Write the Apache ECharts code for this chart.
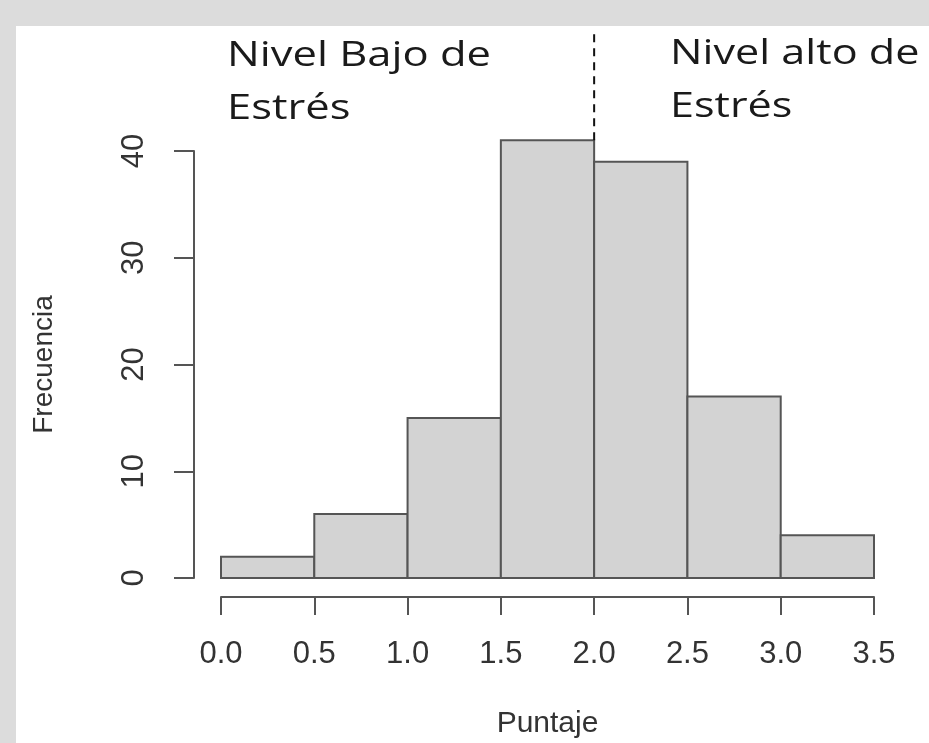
<!DOCTYPE html>
<html>
<head>
<meta charset="utf-8">
<script src="https://cdn.jsdelivr.net/npm/echarts@6/dist/echarts.min.js"></script>
<style>
  html, body { margin: 0; padding: 0; background: #dcdcdc; }
  #chart { position: absolute; left: 16px; top: 26px; width: 913px; height: 717px; background: #ffffff; }
</style>
</head>
<body>
<div id="chart"></div>
<script>
// histogram bins (Puntaje) and counts (Frecuencia)
const binStarts = [0.0, 0.5, 1.0, 1.5, 2.0, 2.5, 3.0];
const binEnds = [0.5, 1.0, 1.5, 2.0, 2.5, 3.0, 3.5];
const counts = [2, 6, 15, 41, 39, 17, 4];

// dashed cut line at 2.0, from the top of the bar up
const cutLine = [[2.0, 41], [2.0, 51.3]];

const lowLabel = "Nivel Bajo de\nEstrés";
const highLabel = "Nivel alto de\nEstrés";

const chart = echarts.init(document.getElementById("chart"));

const tickFont = {
  fontFamily: "Liberation Sans",
  fontSize: 31,
  color: "#333",
};

const option = {
  animation: false,
  grid: { left: 205, right: 55, top: 125, bottom: 165, outerBoundsMode: "none" },
  xAxis: {
    type: "value",
    min: 0,
    max: 3.5,
    interval: 0.5,
    offset: 19,
    name: "Puntaje",
    nameLocation: "middle",
    nameGap: 112,
    nameTextStyle: { fontFamily: "Liberation Sans", fontSize: 30, color: "#333" },
    splitLine: { show: false },
    axisLine: { show: true, onZero: false, lineStyle: { color: "#555", width: 2 } },
    axisTick: { length: 18, lineStyle: { color: "#555", width: 2 } },
    axisLabel: {
      ...tickFont,
      margin: 42,
      formatter: (v) => v.toFixed(1),
    },
  },
  yAxis: {
    type: "value",
    min: 0,
    max: 40,
    interval: 10,
    offset: 27,
    name: "Frecuencia",
    nameLocation: "middle",
    nameRotate: 90,
    nameGap: 136,
    nameTextStyle: { fontFamily: "Liberation Sans", fontSize: 28, color: "#333" },
    splitLine: { show: false },
    axisLine: { show: true, onZero: false, lineStyle: { color: "#555", width: 2 } },
    axisTick: { length: 20, lineStyle: { color: "#555", width: 2 } },
    axisLabel: { ...tickFont, rotate: 90, margin: 44 },
  },
  series: [
    {
      type: "custom",
      data: binStarts.map((s, i) => [s, binEnds[i], counts[i]]),
      encode: { x: [0, 1], y: 2 },
      renderItem: (params, api) => {
        const topLeft = api.coord([api.value(0), api.value(2)]);
        const bottomRight = api.coord([api.value(1), 0]);
        return {
          type: "rect",
          shape: {
            x: topLeft[0],
            y: topLeft[1],
            width: bottomRight[0] - topLeft[0],
            height: bottomRight[1] - topLeft[1],
          },
          style: { fill: "#d3d3d3", stroke: "#555", lineWidth: 2 },
        };
      },
    },
    {
      type: "line",
      data: cutLine,
      clip: false,
      showSymbol: false,
      symbol: "none",
      lineStyle: { color: "#111", width: 2, type: [8, 6] },
      z: 5,
    },
  ],
  graphic: [
    {
      type: "text",
      left: 211,
      top: 4,
      scaleX: 1.28,
      style: {
        text: lowLabel,
        font: "34px 'Open Sans'",
        lineHeight: 53,
        fill: "#1a1a1a",
      },
    },
    {
      type: "text",
      left: 654,
      top: 2,
      scaleX: 1.27,
      style: {
        text: highLabel,
        font: "34px 'Open Sans'",
        lineHeight: 53,
        fill: "#1a1a1a",
      },
    },
  ],
};

chart.setOption(option);
</script>
</body>
</html>
